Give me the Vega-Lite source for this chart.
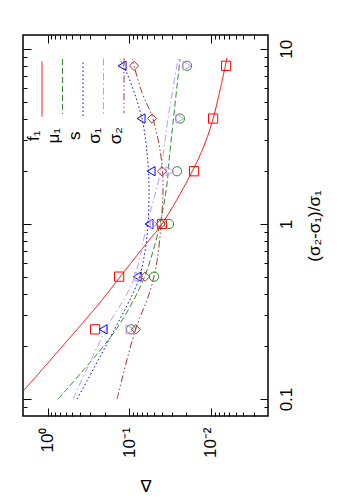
{
  "$schema": "https://vega.github.io/schema/vega-lite/v6.json",
  "width": 245,
  "height": 381,
  "autosize": {"type": "none"},
  "padding": {"left": 23, "top": 35, "right": 82, "bottom": 84},
  "config": {
    "view": {"stroke": "black", "strokeWidth": 1.5},
    "font": "Liberation Sans",
    "axis": {"domain": false, "grid": false, "tickColor": "black", "tickWidth": 1, "labelFont": "Liberation Sans", "labelColor": "black", "titleFont": "Liberation Sans", "titleColor": "black", "titleFontWeight": "normal", "labelFontSize": 17, "titleFontSize": 17, "labelOverlap": false, "labelFlush": false},
    "style": {"guide-label": {"angle": 270}}
  },
  "datasets": {
    "fits": [
      {"series": "f₁", "x": 0.111, "d": 2.0},
      {"series": "f₁", "x": 0.123, "d": 1.64},
      {"series": "f₁", "x": 0.368, "d": 0.215},
      {"series": "f₁", "x": 0.491, "d": 0.133},
      {"series": "f₁", "x": 0.821, "d": 0.0556},
      {"series": "f₁", "x": 0.949, "d": 0.043},
      {"series": "f₁", "x": 1.48, "d": 0.0239},
      {"series": "f₁", "x": 2.61, "d": 0.0129},
      {"series": "f₁", "x": 4.0, "d": 0.0094},
      {"series": "f₁", "x": 8.89, "d": 0.00635},
      {"series": "μ₁", "x": 0.1, "d": 0.744},
      {"series": "μ₁", "x": 0.245, "d": 0.149},
      {"series": "μ₁", "x": 0.448, "d": 0.0717},
      {"series": "μ₁", "x": 0.615, "d": 0.0556},
      {"series": "μ₁", "x": 1.0, "d": 0.042},
      {"series": "μ₁", "x": 1.69, "d": 0.0345},
      {"series": "μ₁", "x": 2.29, "d": 0.0326},
      {"series": "μ₁", "x": 8.77, "d": 0.0239},
      {"series": "s", "x": 0.1, "d": 0.435},
      {"series": "s", "x": 0.245, "d": 0.155},
      {"series": "s", "x": 0.472, "d": 0.078},
      {"series": "s", "x": 0.70, "d": 0.0641},
      {"series": "s", "x": 1.0, "d": 0.0589},
      {"series": "s", "x": 1.54, "d": 0.0573},
      {"series": "s", "x": 2.2, "d": 0.0589},
      {"series": "s", "x": 3.98, "d": 0.0697},
      {"series": "s", "x": 7.01, "d": 0.1035},
      {"series": "s", "x": 8.77, "d": 0.130},
      {"series": "σ₁", "x": 0.1, "d": 0.487},
      {"series": "σ₁", "x": 0.245, "d": 0.198},
      {"series": "σ₁", "x": 0.472, "d": 0.090},
      {"series": "σ₁", "x": 1.0, "d": 0.0605},
      {"series": "σ₁", "x": 1.93, "d": 0.042},
      {"series": "σ₁", "x": 3.98, "d": 0.0336},
      {"series": "σ₁", "x": 8.77, "d": 0.0253},
      {"series": "σ₂", "x": 0.1, "d": 0.141},
      {"series": "σ₂", "x": 0.245, "d": 0.0849},
      {"series": "σ₂", "x": 0.414, "d": 0.0556},
      {"series": "σ₂", "x": 0.615, "d": 0.0457},
      {"series": "σ₂", "x": 1.0, "d": 0.0408},
      {"series": "σ₂", "x": 1.54, "d": 0.0386},
      {"series": "σ₂", "x": 2.2, "d": 0.0397},
      {"series": "σ₂", "x": 3.98, "d": 0.0511},
      {"series": "σ₂", "x": 5.61, "d": 0.0697},
      {"series": "σ₂", "x": 8.77, "d": 0.0924}
    ],
    "pts": [
      {"series": "f₁", "x": 0.25, "d": 0.262},
      {"series": "f₁", "x": 0.5, "d": 0.133},
      {"series": "f₁", "x": 1, "d": 0.0397},
      {"series": "f₁", "x": 2, "d": 0.0161},
      {"series": "f₁", "x": 4, "d": 0.0094},
      {"series": "f₁", "x": 8, "d": 0.00653},
      {"series": "μ₁", "x": 0.25, "d": 0.095},
      {"series": "μ₁", "x": 0.5, "d": 0.0497},
      {"series": "μ₁", "x": 1, "d": 0.0326},
      {"series": "μ₁", "x": 2, "d": 0.026},
      {"series": "μ₁", "x": 4, "d": 0.0239},
      {"series": "μ₁", "x": 8, "d": 0.0196},
      {"series": "s", "x": 0.25, "d": 0.209},
      {"series": "s", "x": 0.5, "d": 0.080},
      {"series": "s", "x": 1, "d": 0.0573},
      {"series": "s", "x": 2, "d": 0.0541},
      {"series": "s", "x": 4, "d": 0.0717},
      {"series": "s", "x": 8, "d": 0.1225},
      {"series": "σ₁", "x": 0.25, "d": 0.098},
      {"series": "σ₁", "x": 0.5, "d": 0.076},
      {"series": "σ₁", "x": 1, "d": 0.0497},
      {"series": "σ₁", "x": 2, "d": 0.0317},
      {"series": "σ₁", "x": 4, "d": 0.0239},
      {"series": "σ₁", "x": 8, "d": 0.0196},
      {"series": "σ₂", "x": 0.25, "d": 0.083},
      {"series": "σ₂", "x": 0.5, "d": 0.064},
      {"series": "σ₂", "x": 1, "d": 0.041},
      {"series": "σ₂", "x": 2, "d": 0.0397},
      {"series": "σ₂", "x": 4, "d": 0.0526},
      {"series": "σ₂", "x": 8, "d": 0.0873}
    ]
  },
  "layer": [
    {
      "data": {"name": "fits"},
      "mark": {"type": "line", "strokeWidth": 1, "interpolate": "catmull-rom", "clip": true},
      "encoding": {
        "x": {
          "field": "d", "type": "quantitative",
          "scale": {"type": "log", "domain": [0.002, 2], "reverse": true, "nice": false},
          "axis": {
            "orient": "bottom",
            "values": [0.003, 0.004, 0.005, 0.006, 0.007, 0.008, 0.009, 0.01, 0.02, 0.03, 0.04, 0.05, 0.06, 0.07, 0.08, 0.09, 0.1, 0.2, 0.3, 0.4, 0.5, 0.6, 0.7, 0.8, 0.9, 1],
            "tickSize": {"condition": {"test": "datum.value == 1 || datum.value == 0.1 || datum.value == 0.01", "value": -8}, "value": -4},
            "labelExpr": "datum.value == 1 ? '10⁰' : datum.value == 0.1 ? '10⁻¹' : datum.value == 0.01 ? '10⁻²' : ''",
            "labelAngle": 270, "labelAlign": "right", "labelBaseline": "middle", "labelPadding": 19,
            "title": "Δ", "titleAngle": 180, "titleBaseline": "bottom", "titlePadding": 18
          }
        },
        "y": {
          "field": "x", "type": "quantitative",
          "scale": {"type": "log", "domain": [0.08, 12], "nice": false},
          "axis": {
            "orient": "right",
            "values": [0.09, 0.1, 0.2, 0.3, 0.4, 0.5, 0.6, 0.7, 0.8, 0.9, 1, 2, 3, 4, 5, 6, 7, 8, 9, 10],
            "tickSize": {"condition": {"test": "datum.value == 0.1 || datum.value == 1 || datum.value == 10", "value": -8}, "value": -4},
            "labelExpr": "datum.value == 0.1 ? '0.1' : datum.value == 1 ? '1' : datum.value == 10 ? '10' : ''",
            "labelAngle": 270, "labelAlign": "center", "labelBaseline": "top", "labelPadding": 18,
            "title": "(σ₂-σ₁)/σ₁", "titleAngle": 270, "titleBaseline": "top", "titlePadding": 8
          }
        },
        "order": {"field": "x"},
        "color": {
          "field": "series", "type": "nominal",
          "scale": {"domain": ["f₁", "μ₁", "s", "σ₁", "σ₂"], "range": ["#ff0000", "#2e8b2e", "#0000ff", "#bb99ff", "#aa3333"]},
          "legend": {
            "title": null, "orient": "none", "legendX": 19, "legendY": 83.5, "direction": "horizontal",
            "symbolType": "M0,-13.8V-2.8", "symbolSize": 100, "symbolStrokeWidth": 1, "symbolOffset": -8.5,
            "labelFontSize": 17, "labelFont": "Liberation Sans", "labelColor": "black",
            "labelAlign": "right", "labelBaseline": "middle", "labelOffset": -17,
            "columnPadding": 0.5, "padding": 0
          }
        },
        "strokeDash": {
          "field": "series", "type": "nominal",
          "scale": {"domain": ["f₁", "μ₁", "s", "σ₁", "σ₂"], "range": [[1, 0], [6, 3], [1.5, 2.5], [7, 3, 1.5, 3], [7, 2.5, 1.5, 2.5, 1.5, 2.5]]}
        }
      }
    },
    {
      "data": {"name": "pts"},
      "mark": {"type": "point", "filled": false, "strokeWidth": 1, "size": 85, "opacity": 1},
      "encoding": {
        "x": {
          "field": "d", "type": "quantitative",
          "axis": {
            "orient": "top",
            "values": [0.003, 0.004, 0.005, 0.006, 0.007, 0.008, 0.009, 0.01, 0.02, 0.03, 0.04, 0.05, 0.06, 0.07, 0.08, 0.09, 0.1, 0.2, 0.3, 0.4, 0.5, 0.6, 0.7, 0.8, 0.9, 1],
            "tickSize": {"condition": {"test": "datum.value == 1 || datum.value == 0.1 || datum.value == 0.01", "value": -8}, "value": -4},
            "labels": false, "title": null
          }
        },
        "y": {
          "field": "x", "type": "quantitative",
          "axis": {
            "orient": "left",
            "values": [0.09, 0.1, 0.2, 0.3, 0.4, 0.5, 0.6, 0.7, 0.8, 0.9, 1, 2, 3, 4, 5, 6, 7, 8, 9, 10],
            "tickSize": {"condition": {"test": "datum.value == 0.1 || datum.value == 1 || datum.value == 10", "value": -8}, "value": -4},
            "labels": false, "title": null
          }
        },
        "color": {
          "field": "series", "type": "nominal",
          "scale": {"domain": ["f₁", "μ₁", "s", "σ₁", "σ₂"], "range": ["#ff0000", "#2e8b2e", "#0000ff", "#bb99ff", "#aa3333"]},
          "legend": null
        },
        "shape": {
          "field": "series", "type": "nominal",
          "scale": {"domain": ["f₁", "μ₁", "s", "σ₁", "σ₂"], "range": ["square", "circle", "triangle-left", "triangle-right", "diamond"]},
          "legend": null
        }
      }
    }
  ],
  "resolve": {"axis": {"x": "independent", "y": "independent"}, "scale": {"color": "independent", "strokeDash": "independent"}}
}
